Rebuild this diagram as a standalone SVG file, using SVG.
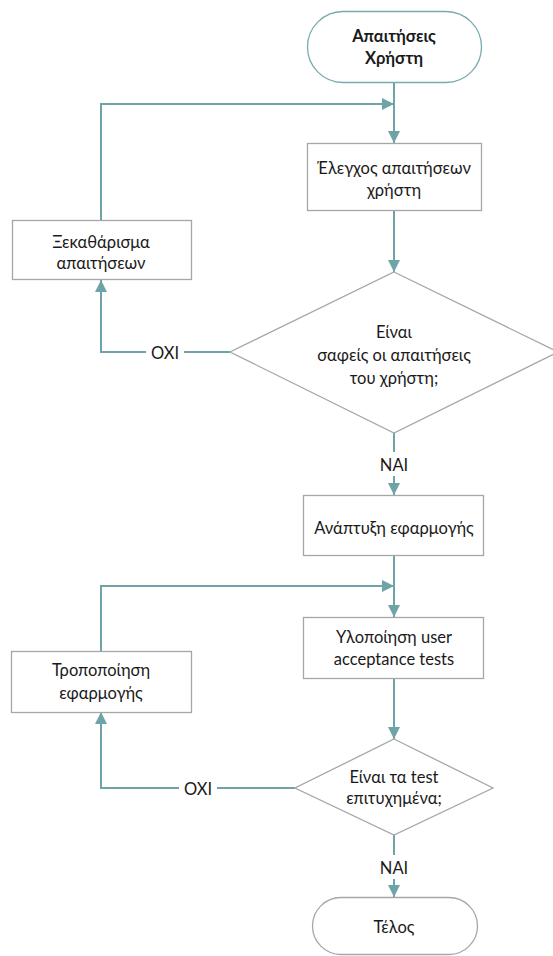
<svg xmlns="http://www.w3.org/2000/svg" width="553" height="956" viewBox="0 0 553 956">
<style>
.box{fill:#fff;stroke:#a6a6a6;stroke-width:1.3}
.term{fill:#fff;stroke:#a6a6a6;stroke-width:1.3}
.start{fill:#fff;stroke:#78aaaf;stroke-width:1.3}
.conn{fill:none;stroke:#6ea3a8;stroke-width:2}
text{font-family:Lato,"Open Sans","Liberation Sans",sans-serif;font-size:16.5px;fill:#1a1a1a;text-anchor:middle}
.b{font-weight:bold}
</style>
<defs>
<marker id="ah" markerWidth="12" markerHeight="12" viewBox="0 0 12 12" refX="12" refY="6" orient="auto" markerUnits="userSpaceOnUse">
<path d="M0,0 L12,6 L0,12 Z" fill="#6ea3a8"/>
</marker>
</defs>
<rect width="553" height="956" fill="#fff"/>
<g id="connectors">
<line class="conn" x1="394" y1="82" x2="394" y2="143" marker-end="url(#ah)"/>
<polyline class="conn" points="101,220 101,104 394,104" marker-end="url(#ah)"/>
<line class="conn" x1="394" y1="211" x2="394" y2="272" marker-end="url(#ah)"/>
<polyline class="conn" points="230,352 101,352 101,280" marker-end="url(#ah)"/>
<line class="conn" x1="394" y1="433" x2="394" y2="495" marker-end="url(#ah)"/>
<line class="conn" x1="394" y1="556" x2="394" y2="617" marker-end="url(#ah)"/>
<polyline class="conn" points="101,651 101,586 394,586" marker-end="url(#ah)"/>
<line class="conn" x1="394" y1="679" x2="394" y2="739" marker-end="url(#ah)"/>
<polyline class="conn" points="295,788 101,788 101,712" marker-end="url(#ah)"/>
<line class="conn" x1="394" y1="835" x2="394" y2="897" marker-end="url(#ah)"/>
<rect x="146" y="343" width="38" height="18" fill="#fff"/>
<text x="165" y="359">ΟΧΙ</text>
<rect x="374" y="452" width="40" height="24" fill="#fff"/>
<text x="394" y="471">ΝΑΙ</text>
<rect x="179" y="779" width="38" height="18" fill="#fff"/>
<text x="198" y="795">ΟΧΙ</text>
<rect x="374" y="855" width="40" height="24" fill="#fff"/>
<text x="394" y="874">ΝΑΙ</text>
</g>
<g id="start">
<rect class="start" x="307.5" y="11.5" width="174" height="71" rx="35.5"/>
<text class="b" x="394" y="42">Απαιτήσεις</text>
<text class="b" x="394" y="64">Χρήστη</text>
</g>
<g id="check">
<rect class="box" x="307.5" y="143.5" width="174" height="67"/>
<text x="394" y="174">Έλεγχος απαιτήσεων</text>
<text x="394" y="196">χρήστη</text>
</g>
<g id="clarify">
<rect class="box" x="12.5" y="220.5" width="179" height="59"/>
<text x="101" y="248">Ξεκαθάρισμα</text>
<text x="101" y="269">απαιτήσεων</text>
</g>
<g id="decision1">
<polygon class="box" points="394,272 558,352 394,433 230,352"/>
<text x="394" y="338">Είναι</text>
<text x="394" y="361">σαφείς οι απαιτήσεις</text>
<text x="394" y="384">του χρήστη;</text>
</g>
<g id="develop">
<rect class="box" x="303.5" y="495.5" width="180" height="60"/>
<text x="394" y="534">Ανάπτυξη εφαρμογής</text>
</g>
<g id="uat">
<rect class="box" x="303.5" y="617.5" width="180" height="61"/>
<text x="394" y="643">Υλοποίηση user</text>
<text x="394" y="665">acceptance tests</text>
</g>
<g id="modify">
<rect class="box" x="11.5" y="651.5" width="180" height="61"/>
<text x="101" y="676">Τροποποίηση</text>
<text x="101" y="699">εφαρμογής</text>
</g>
<g id="decision2">
<polygon class="box" points="394,739 493,788 394,835 295,788"/>
<text x="394" y="783">Είναι τα test</text>
<text x="394" y="804">επιτυχημένα;</text>
</g>
<g id="end">
<rect class="term" x="312.5" y="897.5" width="165" height="57" rx="28.5"/>
<text x="394" y="933">Τέλος</text>
</g>
</svg>
